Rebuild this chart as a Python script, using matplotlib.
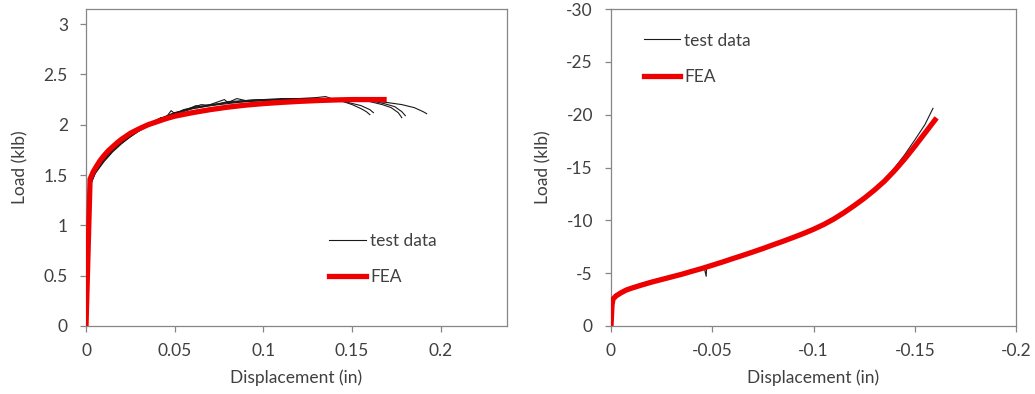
import matplotlib
matplotlib.use("Agg")
import matplotlib.pyplot as plt

plt.rcParams['font.family'] = ['Lato', 'DejaVu Sans']
plt.rcParams['axes.unicode_minus'] = False

# ---------------- Left chart: tension ----------------
left_xticks = [0, 0.05, 0.1, 0.15, 0.2]
left_xticklabels = ["0", "0.05", "0.1", "0.15", "0.2"]
left_yticks = [0, 0.5, 1, 1.5, 2, 2.5, 3]
left_yticklabels = ["0", "0.5", "1", "1.5", "2", "2.5", "3"]

fea_t_x = [0, 0.0023, 0.004, 0.006, 0.008, 0.01, 0.0125, 0.015, 0.0175, 0.02, 0.025,
           0.03, 0.035, 0.04, 0.045, 0.05, 0.06, 0.07, 0.08, 0.09, 0.10, 0.11, 0.12,
           0.13, 0.14, 0.15, 0.16, 0.168]
fea_t_y = [0, 1.46, 1.53, 1.59, 1.645, 1.69, 1.74, 1.78, 1.82, 1.855, 1.915,
           1.96, 2.0, 2.03, 2.06, 2.085, 2.12, 2.15, 2.175, 2.195, 2.21, 2.222, 2.232,
           2.24, 2.246, 2.25, 2.25, 2.25]

test1_x = [0, 0.0025, 0.005, 0.01, 0.015, 0.02, 0.025, 0.03, 0.035, 0.04, 0.042, 0.045,
           0.048, 0.05, 0.055, 0.06, 0.065, 0.07, 0.08, 0.09, 0.10, 0.11, 0.12, 0.13,
           0.14, 0.145, 0.15, 0.155, 0.158, 0.160]
test1_y = [0, 1.40, 1.52, 1.64, 1.74, 1.82, 1.88, 1.94, 1.99, 2.04, 2.07, 2.07,
           2.14, 2.11, 2.15, 2.17, 2.20, 2.19, 2.23, 2.24, 2.25, 2.25, 2.26, 2.26,
           2.25, 2.23, 2.20, 2.16, 2.13, 2.10]

test2_x = [0, 0.0028, 0.006, 0.01, 0.015, 0.02, 0.025, 0.03, 0.035, 0.04, 0.045, 0.05,
           0.053, 0.058, 0.062, 0.065, 0.07, 0.078, 0.08, 0.085, 0.09, 0.10, 0.11, 0.12,
           0.13, 0.135, 0.14, 0.148, 0.155, 0.16, 0.162]
test2_y = [0, 1.42, 1.55, 1.66, 1.75, 1.83, 1.89, 1.95, 2.00, 2.05, 2.08, 2.12,
           2.13, 2.16, 2.19, 2.18, 2.20, 2.25, 2.22, 2.26, 2.24, 2.25, 2.26, 2.26,
           2.27, 2.28, 2.25, 2.22, 2.19, 2.15, 2.12]

test3_x = [0, 0.0026, 0.005, 0.01, 0.015, 0.02, 0.025, 0.03, 0.04, 0.05, 0.06, 0.07,
           0.08, 0.09, 0.10, 0.11, 0.12, 0.13, 0.14, 0.15, 0.16, 0.167, 0.172, 0.176, 0.178]
test3_y = [0, 1.41, 1.53, 1.65, 1.74, 1.82, 1.89, 1.95, 2.04, 2.11, 2.17, 2.20,
           2.22, 2.24, 2.25, 2.25, 2.26, 2.26, 2.26, 2.25, 2.23, 2.20, 2.17, 2.12, 2.07]

test4_x = [0, 0.0027, 0.006, 0.01, 0.015, 0.02, 0.025, 0.03, 0.04, 0.05, 0.06, 0.07,
           0.08, 0.09, 0.10, 0.11, 0.12, 0.13, 0.14, 0.15, 0.16, 0.168, 0.174, 0.178, 0.180]
test4_y = [0, 1.43, 1.55, 1.66, 1.76, 1.83, 1.90, 1.96, 2.05, 2.12, 2.16, 2.19,
           2.21, 2.23, 2.24, 2.25, 2.25, 2.26, 2.26, 2.25, 2.24, 2.21, 2.18, 2.13, 2.09]

test5_x = [0, 0.0025, 0.005, 0.01, 0.015, 0.02, 0.025, 0.03, 0.04, 0.05, 0.06, 0.07,
           0.08, 0.09, 0.10, 0.11, 0.12, 0.13, 0.14, 0.15, 0.16, 0.17, 0.178, 0.185, 0.19, 0.192]
test5_y = [0, 1.40, 1.51, 1.63, 1.73, 1.81, 1.88, 1.94, 2.03, 2.10, 2.16, 2.19,
           2.22, 2.23, 2.24, 2.25, 2.25, 2.26, 2.26, 2.25, 2.24, 2.22, 2.20, 2.17, 2.13, 2.11]

# ---------------- Right chart: compression ----------------
right_xticks = [0, -0.05, -0.1, -0.15, -0.2]
right_xticklabels = ["0", "-0.05", "-0.1", "-0.15", "-0.2"]
right_yticks = [0, -5, -10, -15, -20, -25, -30]
right_yticklabels = ["0", "-5", "-10", "-15", "-20", "-25", "-30"]

fea_c_x = [0, -0.0005, -0.001, -0.0025, -0.005, -0.0075, -0.01, -0.015, -0.02, -0.025,
           -0.03, -0.035, -0.04, -0.045, -0.05, -0.055, -0.06, -0.065, -0.07, -0.075,
           -0.08, -0.085, -0.09, -0.095, -0.10, -0.105, -0.11, -0.115, -0.12, -0.125,
           -0.13, -0.135, -0.14, -0.145, -0.15, -0.155, -0.16]
fea_c_y = [0, -2.0, -2.55, -2.85, -3.15, -3.4, -3.57, -3.87, -4.15, -4.4,
           -4.65, -4.9, -5.18, -5.45, -5.75, -6.05, -6.37, -6.68, -7.0, -7.33,
           -7.68, -8.02, -8.38, -8.75, -9.15, -9.6, -10.12, -10.72, -11.38, -12.08,
           -12.85, -13.7, -14.7, -15.8, -17.0, -18.25, -19.5]

test_c_x = [0, -0.0005, -0.001, -0.0025, -0.005, -0.01, -0.015, -0.02, -0.03, -0.04,
            -0.046, -0.047, -0.0472, -0.05, -0.06, -0.075, -0.09, -0.10, -0.115,
            -0.125, -0.135, -0.14, -0.145, -0.15, -0.155, -0.159]
test_c_y = [0, -2.1, -2.7, -3.0, -3.3, -3.72, -4.02, -4.3, -4.78, -5.25,
            -5.55, -4.7, -5.62, -5.72, -6.32, -7.25, -8.3, -9.05, -10.65,
            -12.0, -13.75, -14.95, -16.2, -17.6, -19.05, -20.6]

gray = "#868686"
text_color = "#404040"
fs = 12.5

fig = plt.figure(figsize=(10.35, 3.94), dpi=100)
axL = fig.add_axes([86 / 1035, 1 - 326 / 394, (507 - 86) / 1035, (326 - 9) / 394])
axR = fig.add_axes([611 / 1035, 1 - 326 / 394, (1016 - 611) / 1035, (326 - 9) / 394])

for i, (tx, ty) in enumerate([(test1_x, test1_y), (test2_x, test2_y), (test3_x, test3_y),
                              (test4_x, test4_y), (test5_x, test5_y)]):
    axL.plot(tx, ty, color="#1a1a1a", lw=0.8, label="test data" if i == 0 else None, zorder=2)
axL.plot(fea_t_x, fea_t_y, color="#ee0000", lw=3.8, label="FEA", zorder=3)
axL.set_xlim(0, 0.2373)
axL.set_ylim(0, 3.15)
axL.set_xticks(left_xticks)
axL.set_xticklabels(left_xticklabels)
axL.set_yticks(left_yticks)
axL.set_yticklabels(left_yticklabels)

axR.plot(test_c_x, test_c_y, color="#1a1a1a", lw=0.8, label="test data", zorder=2)
axR.plot(fea_c_x, fea_c_y, color="#ee0000", lw=3.8, label="FEA", zorder=3)
axR.set_xlim(0, -0.2)
axR.set_ylim(0, -30)
axR.set_xticks(right_xticks)
axR.set_xticklabels(right_xticklabels)
axR.set_yticks(right_yticks)
axR.set_yticklabels(right_yticklabels)

for ax in (axL, axR):
    for s in ax.spines.values():
        s.set_color(gray)
        s.set_linewidth(0.9)
    ax.tick_params(axis='both', direction='out', length=4, width=0.9, color=gray,
                   labelsize=fs, labelcolor=text_color)
    ax.tick_params(axis='y', pad=9)
    ax.tick_params(axis='x', pad=8)
    ax.set_xlabel("Displacement (in)", fontsize=fs, color=text_color, labelpad=8)
    ax.set_ylabel("Load (klb)", fontsize=fs, color=text_color, labelpad=11)

axL.legend(loc='upper left', bbox_to_anchor=(0.541, 0.344), frameon=False, fontsize=fs,
           handlelength=2.1, handletextpad=0.25, labelspacing=1.2, labelcolor=text_color)
axR.legend(loc='upper left', bbox_to_anchor=(0.042, 0.975), frameon=False, fontsize=fs,
           handlelength=2.1, handletextpad=0.25, labelspacing=1.2, labelcolor=text_color)

fig.savefig("out.png", dpi=100)
